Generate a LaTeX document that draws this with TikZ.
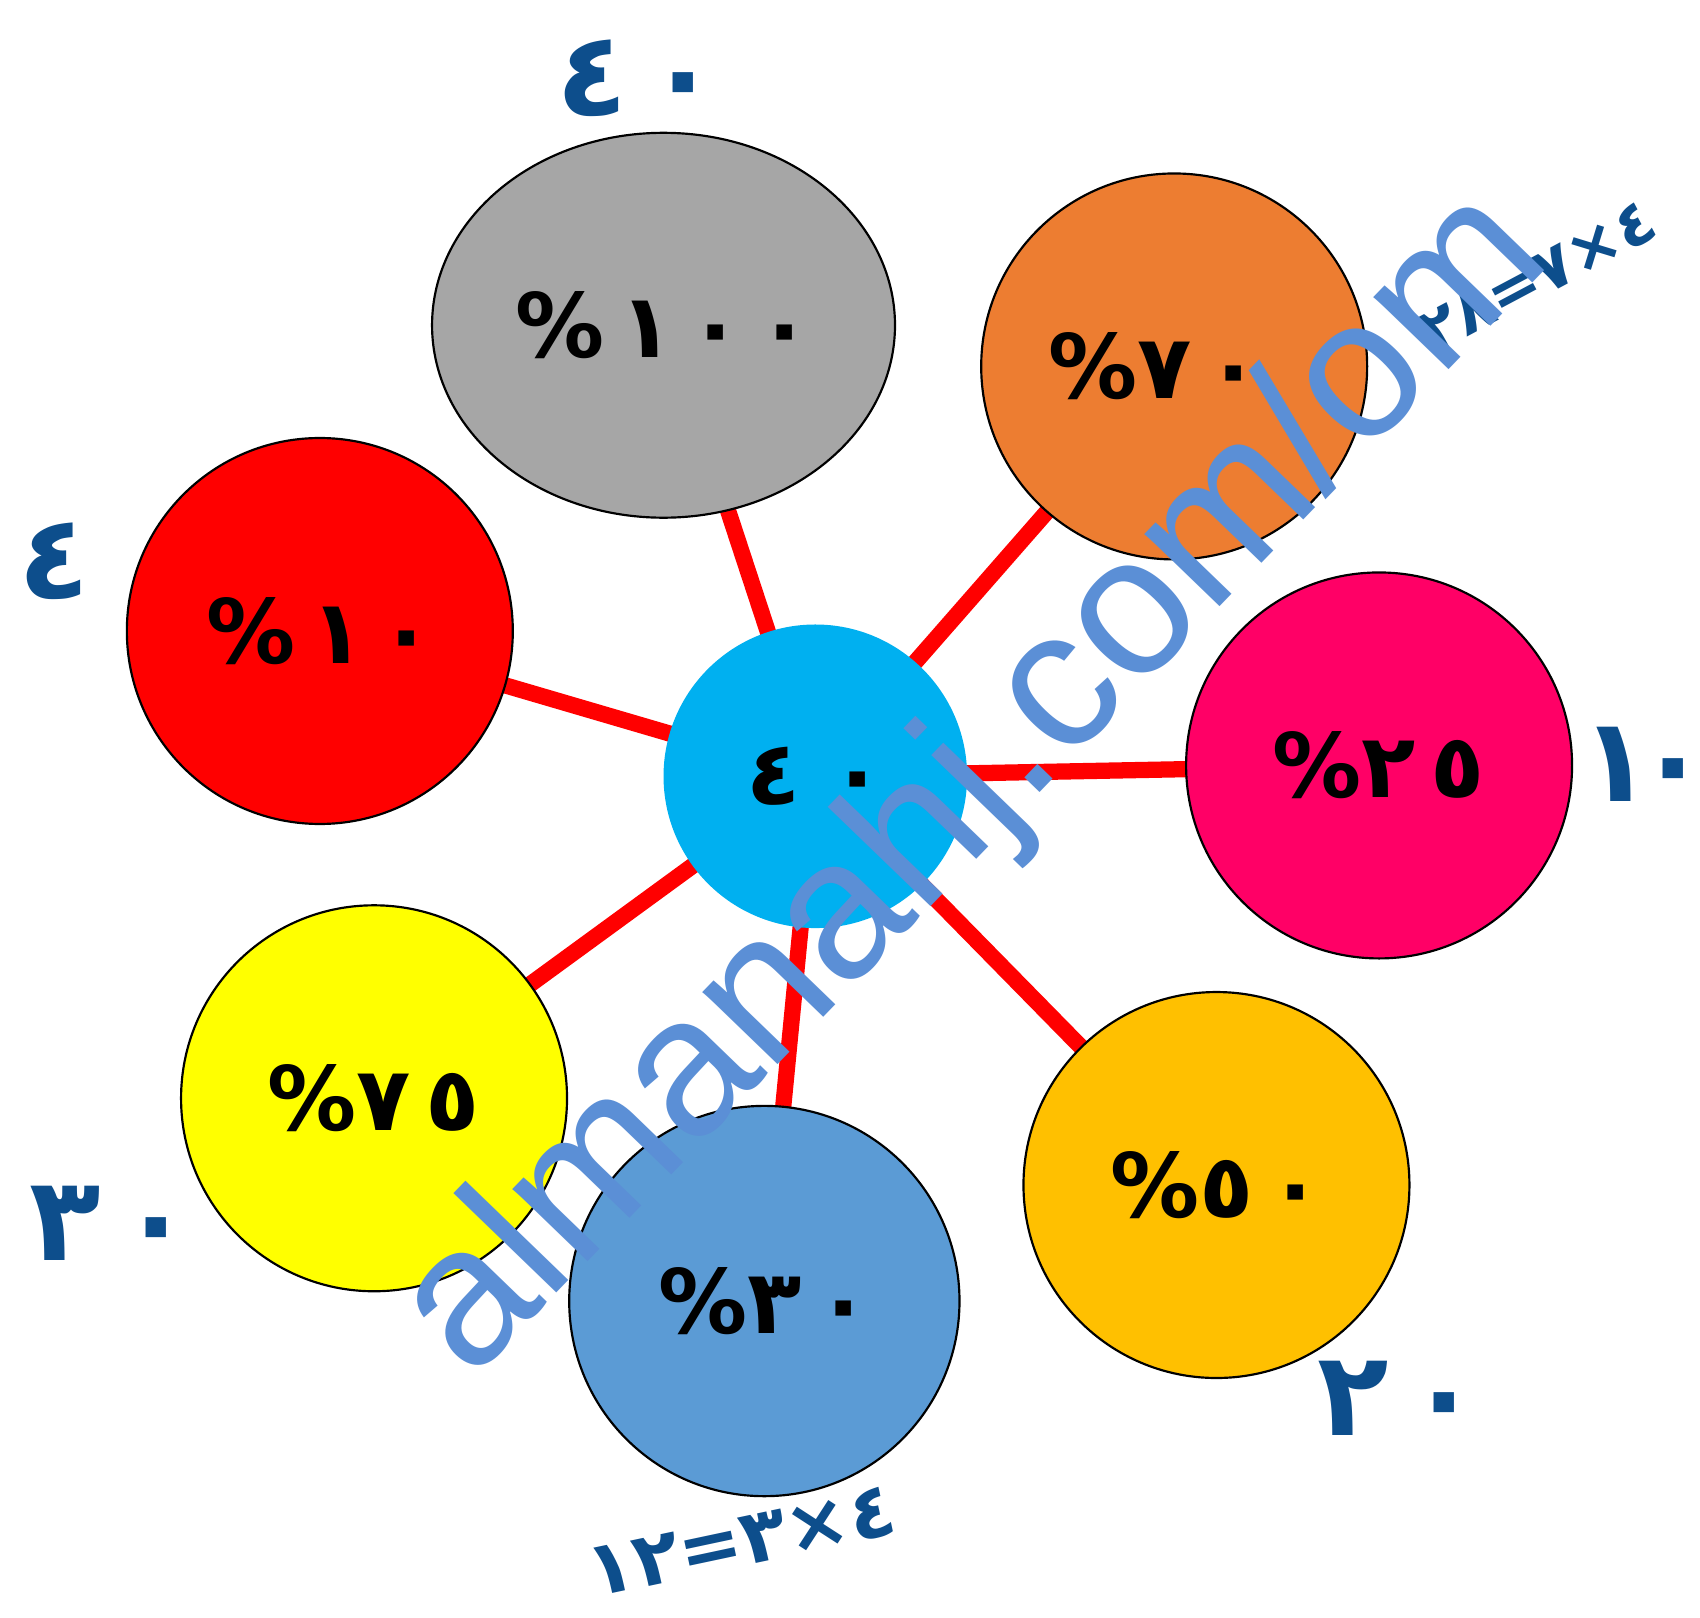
\documentclass[tikz,border=0pt]{standalone}
\usepackage{fontspec}
\usetikzlibrary{shapes.geometric}
\newfontfamily\arfont{DejaVu Sans}
\newfontfamily\wmfont{Liberation Sans}
\definecolor{cgray}{HTML}{A6A6A6}
\definecolor{corange}{HTML}{ED7D31}
\definecolor{cred}{HTML}{FF0000}
\definecolor{ccenter}{HTML}{00B0F0}
\definecolor{cpink}{HTML}{FF0066}
\definecolor{cyellow}{HTML}{FFFF00}
\definecolor{csteel}{HTML}{5B9BD5}
\definecolor{cgold}{HTML}{FFC000}
\definecolor{handblue}{HTML}{0D4E8C}
\definecolor{wmblue}{HTML}{5B8FD6}
\newcommand\gl[1]{\hbox{#1}}
\begin{document}
\begin{tikzpicture}[x=0.5pt,y=-0.5pt,
  bubble/.style={circle, draw=black, line width=1pt, minimum size=178pt, inner sep=0pt,
    font=\arfont\bfseries\fontsize{41}{41}\selectfont, text=black},
  link/.style={draw=cred, line width=7.5pt},
  hand/.style={text=handblue, inner sep=0pt, font=\arfont\bfseries\fontsize{54}{54}\selectfont},
  handsmall/.style={text=handblue, inner sep=0pt, font=\arfont\bfseries\fontsize{35}{35}\selectfont},
  handtiny/.style={text=handblue, inner sep=0pt, font=\arfont\bfseries\fontsize{29}{29}\selectfont},
  watermark/.style={text=wmblue, inner sep=0pt, font=\wmfont\fontsize{91}{91}\selectfont}]
\useasboundingbox (0,0) rectangle (1568,1492);
\fill[white] (0,0) rectangle (1568,1492);
% node positions
\coordinate (pc) at (752,716);
\coordinate (pgray) at (617,305);
\coordinate (porange) at (1083,338);
\coordinate (pred) at (295,582);
\coordinate (ppink) at (1272,706);
\coordinate (pyellow) at (345,1013);
\coordinate (psteel) at (705,1200);
\coordinate (pgold) at (1122,1093);
% connectors
\draw[link] (pc) -- (pgray);
\draw[link] (pc) -- (porange);
\draw[link] (pc) -- (pred);
\draw[link] (pc) -- (ppink);
\draw[link] (pc) -- (pyellow);
\draw[link] (pc) -- (psteel);
\draw[link] (pc) -- (pgold);
% bubbles
\node[bubble, ellipse, minimum width=213.5pt, minimum height=177.5pt, fill=cgray] (gray) at (612,300) {\%\,^^^^0661\,^^^^0660\,^^^^0660};
\node[bubble, fill=corange] (orange) at (porange) {\%^^^^0667\,^^^^0660\kern18pt};
\node[bubble, fill=cred] (red) at (pred) {\%\,^^^^0661\,^^^^0660};
\node[bubble, fill=cpink] (pink) at (ppink) {\%^^^^0662\,^^^^0665};
\node[bubble, fill=cyellow] (yellow) at (pyellow) {\%^^^^0667\,^^^^0665};
\node[bubble, minimum size=180pt, fill=csteel] (steel) at (psteel) {\%^^^^0663\,^^^^0660};
\node[bubble, fill=cgold] (gold) at (pgold) {\%^^^^0665\,^^^^0660};
\node[bubble, draw=none, minimum size=140pt, fill=ccenter] (center) at (pc) {^^^^0664\,\,^^^^0660};
% handwritten answers
\node[hand] (a1) at (588,72) {^^^^0664\,^^^^0660};
\node[hand] (a2) at (50,518) {^^^^0664};
\node[hand] (a3) at (1517,705) {^^^^0661\kern-0.12em^^^^0660};
\node[hand] (a4) at (102,1128) {^^^^0663\,^^^^0660};
\node[hand] (a5) at (1290,1290) {^^^^0662\,^^^^0660};
\node[handsmall, rotate=12] (a6) at (684,1422) {\gl{^^^^0661^^^^0662}\gl{=}\gl{^^^^0663}\gl{^^^^00d7}\gl{^^^^0664}};
\node[handtiny, rotate=28] (a7) at (1418,256) {\gl{^^^^0662^^^^0668}\gl{=}\gl{^^^^0667}\gl{^^^^00d7}\gl{^^^^0664}};
% watermark
\node[watermark, rotate=46] (wm) at (900,725) {almanahj.com/om};
\end{tikzpicture}
\end{document}
